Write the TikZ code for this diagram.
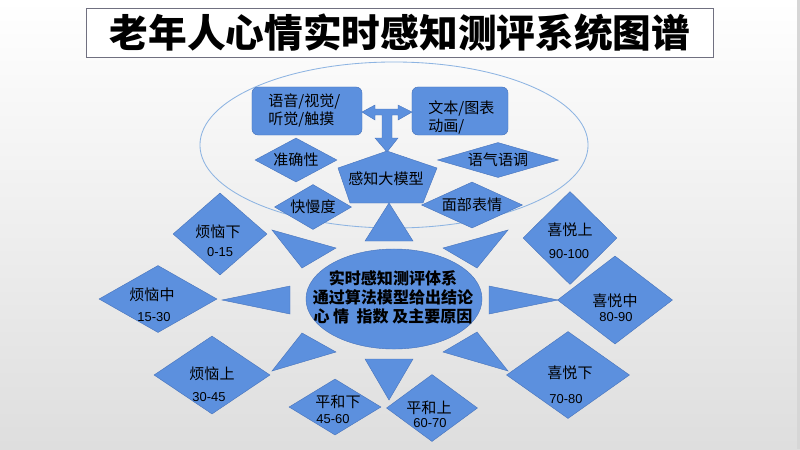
\documentclass[tikz,border=0pt]{standalone}
\usepackage{fontspec}
\setmainfont{Noto Sans CJK SC}
\newfontfamily\numfont{Liberation Sans}
\usepackage{tikz}
\usetikzlibrary{shapes.geometric}
\definecolor{shapeblue}{RGB}{92,144,222}
\definecolor{edgeblue}{RGB}{72,116,188}
\definecolor{ringblue}{RGB}{141,180,226}
\definecolor{framegray}{RGB}{112,112,128}

\begin{document}
\begin{tikzpicture}[x=0.025cm, y=-0.025cm,
  blu/.style={fill=shapeblue, draw=edgeblue, line width=0.3pt},
  dia/.style={blu, diamond, inner sep=0pt},
  rbox/.style={blu, rectangle, rounded corners=0.15cm, minimum width=#1, minimum height=1.2cm},
  word/.style={font=\fontsize{10.7}{12.8}\selectfont, text=black, inner sep=0pt},
  num/.style={font=\numfont\fontsize{9.2}{11}\selectfont, text=black, inner sep=0pt}]
% -- background --
\useasboundingbox (0,0) rectangle (800,449);
\shade[top color=white, bottom color=black!13] (0,0) rectangle (800,449);
\fill[black!16] (797,0) rectangle (800,449);
% -- title --
\node[draw=framegray, fill=white, line width=0.7pt, minimum width=15.65cm, minimum height=1.225cm, inner sep=0pt,
  font=\bfseries\fontsize{27.5}{30}\selectfont] (title) at (400,32.5) {老年人心情实时感知测评系统图谱};
% -- perception model --
\node[draw=ringblue, ellipse, line width=0.6pt, minimum width=9.7cm, minimum height=4.15cm] (ring) at (394,145) {};
\node[rbox=2.75cm] (sense) at (307,111) {};
\node[rbox=2.4cm] (media) at (460,111) {};
\node[word, align=left, anchor=west] (sense-t) at (268,110.5) {语音/视觉/\\听觉/触摸};
\node[word, align=left, anchor=west] (media-t) at (428,117.3) {文本/图表\\动画/};
\draw[blu] (362,112) -- (375,105) -- (375,109) -- (398,109) -- (398,105) -- (412,112) -- (398,120) -- (398,115)
  -- (392,115) -- (392,138) -- (398,138) -- (387,152) -- (375,138) -- (382,138) -- (382,115) -- (375,115) -- (375,120) -- cycle;
\draw[blu] (387,151) -- (437,168) -- (423,203) -- (350,203) -- (338,168) -- cycle;
\node[word] (model) at (386,179) {感知大模型};
\node[dia, shape aspect=1.86, minimum width=2.05cm, minimum height=1.1cm, word] (acc) at (296,160) {准确性};
\node[dia, shape aspect=3.46, minimum width=3.025cm, minimum height=0.875cm, word] (tone) at (498,160) {语气语调};
\node[dia, shape aspect=1.71, minimum width=1.925cm, minimum height=1.125cm, word] (speed) at (313,207) {快慢度};
\node[dia, shape aspect=2.2, minimum width=2.525cm, minimum height=1.15cm, word] (face) at (472,205) {面部表情};
% -- core --
\node[blu, ellipse, minimum width=4.4cm, minimum height=2.5cm, inner sep=0pt] (core) at (394,299) {};
\node[align=center, inner sep=0pt, text=black, font=\bfseries\fontsize{11.4}{13.5}\selectfont] (core-t) at (393,297)
  {实时感知测评体系\\通过算法模型给出结论\\心 情\ \ 指数 及主要原因};
% -- pointers --
\draw[blu] (389,203) -- (413,241) -- (365,241) -- cycle;
\draw[blu] (272,230) -- (336,248) -- (302,268) -- cycle;
\draw[blu] (222,300) -- (290,286) -- (290,314) -- cycle;
\draw[blu] (302,333) -- (336,352) -- (272,371) -- cycle;
\draw[blu] (365,359) -- (413,359) -- (389,400) -- cycle;
\draw[blu] (443,352) -- (477,332) -- (508,371) -- cycle;
\draw[blu] (489,286) -- (558,300) -- (489,314) -- cycle;
\draw[blu] (443,248) -- (508,230) -- (477,268) -- cycle;
% -- levels --
\node[dia, minimum width=2.35cm, minimum height=2.05cm] (fan3) at (220,234) {};
\node[dia, minimum width=2.95cm, minimum height=1.675cm] (fan2) at (158,299) {};
\node[dia, minimum width=2.9cm, minimum height=1.95cm] (fan1) at (212,375) {};
\node[dia, minimum width=2.3cm, minimum height=1.4cm] (ping2) at (335,407) {};
\node[dia, minimum width=2.275cm, minimum height=1.675cm] (ping1) at (432,408) {};
\node[dia, minimum width=3.075cm, minimum height=2.175cm] (xi3) at (568,375) {};
\node[dia, minimum width=2.875cm, minimum height=2.2cm] (xi2) at (615,300) {};
\node[dia, minimum width=2.35cm, minimum height=2.325cm] (xi1) at (570,238) {};
\node[word] (fan3-t) at (218,232) {烦恼下};
\node[num] (fan3-n) at (220,252) {0-15};
\node[word] (fan2-t) at (152,295) {烦恼中};
\node[num] (fan2-n) at (154,317) {15-30};
\node[word] (fan1-t) at (212,374) {烦恼上};
\node[num] (fan1-n) at (209,397) {30-45};
\node[word] (ping2-t) at (338,402) {平和下};
\node[num] (ping2-n) at (333,419) {45-60};
\node[word] (ping1-t) at (429,408) {平和上};
\node[num] (ping1-n) at (430,423) {60-70};
\node[word] (xi3-t) at (570,373) {喜悦下};
\node[num] (xi3-n) at (566,399) {70-80};
\node[word] (xi2-t) at (615,301) {喜悦中};
\node[num] (xi2-n) at (616,317) {80-90};
\node[word] (xi1-t) at (570,230) {喜悦上};
\node[num] (xi1-n) at (569,254) {90-100};
\end{tikzpicture}
\end{document}
